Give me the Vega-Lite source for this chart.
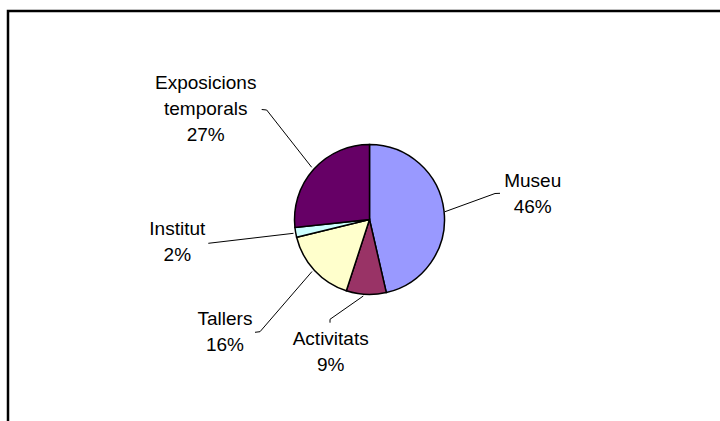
{
  "$schema": "https://vega.github.io/schema/vega-lite/v6.json",
  "width": 723,
  "height": 417,
  "padding": {"left": 8, "top": 11, "right": 0, "bottom": 0},
  "autosize": {"type": "none"},
  "background": "white",
  "config": {"view": {"stroke": "#000000", "strokeWidth": 2.5}},
  "datasets": {
    "slices": [
      {"name": "Museu", "value": 46.4, "o": 1},
      {"name": "Activitats", "value": 8.6, "o": 2},
      {"name": "Tallers", "value": 16.2, "o": 3},
      {"name": "Institut", "value": 2.1, "o": 4},
      {"name": "Exposicions temporals", "value": 26.7, "o": 5}
    ],
    "labels": [
      {"label": "Exposicions\ntemporals\n27%", "x": -163.8, "y": 136.2},
      {"label": "Museu\n46%", "x": 163.2, "y": 38.8},
      {"label": "Institut\n2%", "x": -192.2, "y": -9.8},
      {"label": "Tallers\n16%", "x": -144.5, "y": -99.5},
      {"label": "Activitats\n9%", "x": -38.8, "y": -119.8}
    ],
    "leaders": [
      {"k": "Exposicions temporals", "i": 1, "x": -107.8, "y": 110},
      {"k": "Exposicions temporals", "i": 2, "x": -102.8, "y": 109.5},
      {"k": "Exposicions temporals", "i": 3, "x": -57.8, "y": 52.2},
      {"k": "Museu", "i": 1, "x": 130.5, "y": 26.2},
      {"k": "Museu", "i": 2, "x": 125.5, "y": 26},
      {"k": "Museu", "i": 3, "x": 75.5, "y": 7.8},
      {"k": "Institut", "i": 1, "x": -161.2, "y": -23.8},
      {"k": "Institut", "i": 2, "x": -76, "y": -13.8},
      {"k": "Tallers", "i": 1, "x": -114.5, "y": -112.8},
      {"k": "Tallers", "i": 2, "x": -109.5, "y": -112.2},
      {"k": "Tallers", "i": 3, "x": -57.5, "y": -52},
      {"k": "Activitats", "i": 1, "x": -39.5, "y": -103.2},
      {"k": "Activitats", "i": 2, "x": -39.5, "y": -99.8},
      {"k": "Activitats", "i": 3, "x": -6.2, "y": -76.5}
    ]
  },
  "layer": [
    {
      "data": {"name": "slices"},
      "mark": {"type": "arc", "radius": 75, "stroke": "#000000", "strokeWidth": 1.5},
      "encoding": {
        "theta": {"field": "value", "type": "quantitative", "stack": true},
        "order": {"field": "o", "type": "quantitative"},
        "color": {
          "field": "name",
          "type": "nominal",
          "scale": {
            "domain": ["Museu", "Activitats", "Tallers", "Institut", "Exposicions temporals"],
            "range": ["#9999FF", "#993366", "#FFFFCC", "#CCFFFF", "#660066"]
          },
          "legend": null
        }
      }
    },
    {
      "data": {"name": "leaders"},
      "mark": {"type": "line", "color": "#000000", "strokeWidth": 1},
      "encoding": {
        "x": {"field": "x", "type": "quantitative", "scale": {"domain": [-361.5, 361.5], "nice": false, "zero": false}, "axis": null},
        "y": {"field": "y", "type": "quantitative", "scale": {"domain": [-208.5, 208.5], "nice": false, "zero": false}, "axis": null},
        "detail": {"field": "k", "type": "nominal"},
        "order": {"field": "i", "type": "quantitative"}
      }
    },
    {
      "data": {"name": "labels"},
      "mark": {"type": "text", "font": "Liberation Sans", "fontSize": 19, "lineBreak": "\n", "lineHeight": 26, "align": "center", "baseline": "middle", "color": "#000000"},
      "encoding": {
        "x": {"field": "x", "type": "quantitative", "scale": {"domain": [-361.5, 361.5], "nice": false, "zero": false}, "axis": null},
        "y": {"field": "y", "type": "quantitative", "scale": {"domain": [-208.5, 208.5], "nice": false, "zero": false}, "axis": null},
        "text": {"field": "label"}
      }
    }
  ]
}
